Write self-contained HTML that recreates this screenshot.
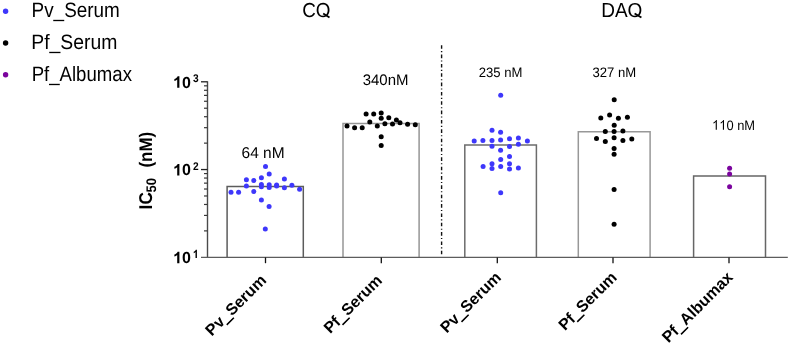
<!DOCTYPE html>
<html><head><meta charset="utf-8"><style>
html,body{margin:0;padding:0;background:#fff;width:790px;height:345px;overflow:hidden;-webkit-font-smoothing:antialiased;text-rendering:geometricPrecision}
svg{position:absolute;left:0;top:0;will-change:transform}
text{text-rendering:geometricPrecision}
</style></head><body>
<svg width="790" height="345" viewBox="0 0 790 345">
<path d="M227.1,257.4 V186.6 H303.3 V257.4" fill="none" stroke="#5c5c5c" stroke-width="1.5"/>
<path d="M343.0,257.4 V123.4 H419.1 V257.4" fill="none" stroke="#969696" stroke-width="1.5"/>
<path d="M464.8,257.4 V144.9 H536.4 V257.4" fill="none" stroke="#6c6c6c" stroke-width="1.5"/>
<path d="M578.3,257.4 V131.8 H650.1 V257.4" fill="none" stroke="#989898" stroke-width="1.5"/>
<path d="M693.6,257.4 V176.0 H765.5 V257.4" fill="none" stroke="#666666" stroke-width="1.5"/>
<line x1="207.5" y1="81.3" x2="207.5" y2="257.4" stroke="#4a4a4a" stroke-width="1.4"/>
<line x1="201" y1="257.4" x2="787.8" y2="257.4" stroke="#5c5c5c" stroke-width="1.35"/>
<line x1="201" y1="169.55" x2="207.5" y2="169.55" stroke="#222" stroke-width="1.3"/>
<line x1="201" y1="81.80" x2="207.5" y2="81.80" stroke="#222" stroke-width="1.3"/>
<line x1="204.0" y1="230.88" x2="207.5" y2="230.88" stroke="#383838" stroke-width="1.2"/>
<line x1="204.0" y1="215.43" x2="207.5" y2="215.43" stroke="#383838" stroke-width="1.2"/>
<line x1="204.0" y1="204.47" x2="207.5" y2="204.47" stroke="#383838" stroke-width="1.2"/>
<line x1="204.0" y1="195.97" x2="207.5" y2="195.97" stroke="#383838" stroke-width="1.2"/>
<line x1="204.0" y1="189.02" x2="207.5" y2="189.02" stroke="#383838" stroke-width="1.2"/>
<line x1="204.0" y1="183.14" x2="207.5" y2="183.14" stroke="#383838" stroke-width="1.2"/>
<line x1="204.0" y1="178.05" x2="207.5" y2="178.05" stroke="#383838" stroke-width="1.2"/>
<line x1="204.0" y1="173.57" x2="207.5" y2="173.57" stroke="#383838" stroke-width="1.2"/>
<line x1="204.0" y1="143.13" x2="207.5" y2="143.13" stroke="#383838" stroke-width="1.2"/>
<line x1="204.0" y1="127.68" x2="207.5" y2="127.68" stroke="#383838" stroke-width="1.2"/>
<line x1="204.0" y1="116.72" x2="207.5" y2="116.72" stroke="#383838" stroke-width="1.2"/>
<line x1="204.0" y1="108.22" x2="207.5" y2="108.22" stroke="#383838" stroke-width="1.2"/>
<line x1="204.0" y1="101.27" x2="207.5" y2="101.27" stroke="#383838" stroke-width="1.2"/>
<line x1="204.0" y1="95.39" x2="207.5" y2="95.39" stroke="#383838" stroke-width="1.2"/>
<line x1="204.0" y1="90.30" x2="207.5" y2="90.30" stroke="#383838" stroke-width="1.2"/>
<line x1="204.0" y1="85.82" x2="207.5" y2="85.82" stroke="#383838" stroke-width="1.2"/>
<line x1="265.5" y1="257.4" x2="265.5" y2="263.2" stroke="#111" stroke-width="1.3"/>
<line x1="381.3" y1="257.4" x2="381.3" y2="263.2" stroke="#111" stroke-width="1.3"/>
<line x1="497.3" y1="257.4" x2="497.3" y2="263.2" stroke="#111" stroke-width="1.3"/>
<line x1="613.0" y1="257.4" x2="613.0" y2="263.2" stroke="#111" stroke-width="1.3"/>
<line x1="729.0" y1="257.4" x2="729.0" y2="263.2" stroke="#111" stroke-width="1.3"/>
<line x1="441.6" y1="45.2" x2="441.6" y2="254.2" stroke="#111" stroke-width="1.4" stroke-dasharray="3.6,2.3,1.1,2.345"/>
<circle cx="265.5" cy="166.4" r="2.5" fill="#3e37fb"/>
<circle cx="269.2" cy="174.1" r="2.5" fill="#3e37fb"/>
<circle cx="246.4" cy="179.7" r="2.5" fill="#3e37fb"/>
<circle cx="253.8" cy="180.6" r="2.5" fill="#3e37fb"/>
<circle cx="261.4" cy="177.7" r="2.5" fill="#3e37fb"/>
<circle cx="284.4" cy="178.9" r="2.5" fill="#3e37fb"/>
<circle cx="246.4" cy="186.1" r="2.5" fill="#3e37fb"/>
<circle cx="261.4" cy="184.6" r="2.5" fill="#3e37fb"/>
<circle cx="261.4" cy="186.8" r="2.5" fill="#3e37fb"/>
<circle cx="269.2" cy="184.7" r="2.5" fill="#3e37fb"/>
<circle cx="269.2" cy="187.4" r="2.5" fill="#3e37fb"/>
<circle cx="276.6" cy="185.0" r="2.5" fill="#3e37fb"/>
<circle cx="276.6" cy="186.1" r="2.5" fill="#3e37fb"/>
<circle cx="284.4" cy="187.8" r="2.5" fill="#3e37fb"/>
<circle cx="291.9" cy="185.3" r="2.5" fill="#3e37fb"/>
<circle cx="299.6" cy="189.2" r="2.5" fill="#3e37fb"/>
<circle cx="253.8" cy="191.5" r="2.5" fill="#3e37fb"/>
<circle cx="231.0" cy="192.3" r="2.5" fill="#3e37fb"/>
<circle cx="238.6" cy="192.3" r="2.5" fill="#3e37fb"/>
<circle cx="261.4" cy="200.1" r="2.5" fill="#3e37fb"/>
<circle cx="269.1" cy="206.6" r="2.5" fill="#3e37fb"/>
<circle cx="265.3" cy="229.1" r="2.5" fill="#3e37fb"/>
<circle cx="366.1" cy="113.9" r="2.5" fill="#000"/>
<circle cx="373.7" cy="113.9" r="2.5" fill="#000"/>
<circle cx="381.2" cy="113.1" r="2.5" fill="#000"/>
<circle cx="381.2" cy="118.3" r="2.5" fill="#000"/>
<circle cx="388.8" cy="117.8" r="2.5" fill="#000"/>
<circle cx="396.4" cy="120.1" r="2.5" fill="#000"/>
<circle cx="400.0" cy="122.7" r="2.5" fill="#000"/>
<circle cx="369.8" cy="122.0" r="2.5" fill="#000"/>
<circle cx="384.9" cy="123.7" r="2.5" fill="#000"/>
<circle cx="392.5" cy="123.9" r="2.5" fill="#000"/>
<circle cx="407.6" cy="124.2" r="2.5" fill="#000"/>
<circle cx="415.3" cy="124.7" r="2.5" fill="#000"/>
<circle cx="347.0" cy="126.1" r="2.5" fill="#000"/>
<circle cx="354.6" cy="127.8" r="2.5" fill="#000"/>
<circle cx="362.2" cy="127.8" r="2.5" fill="#000"/>
<circle cx="377.3" cy="126.1" r="2.5" fill="#000"/>
<circle cx="381.2" cy="136.7" r="2.5" fill="#000"/>
<circle cx="381.2" cy="145.5" r="2.5" fill="#000"/>
<circle cx="500.7" cy="95.2" r="2.5" fill="#3e37fb"/>
<circle cx="492.0" cy="130.2" r="2.5" fill="#3e37fb"/>
<circle cx="500.6" cy="132.2" r="2.5" fill="#3e37fb"/>
<circle cx="474.2" cy="140.9" r="2.5" fill="#3e37fb"/>
<circle cx="482.9" cy="140.4" r="2.5" fill="#3e37fb"/>
<circle cx="492.0" cy="140.4" r="2.5" fill="#3e37fb"/>
<circle cx="500.6" cy="140.0" r="2.5" fill="#3e37fb"/>
<circle cx="509.5" cy="138.7" r="2.5" fill="#3e37fb"/>
<circle cx="518.4" cy="138.0" r="2.5" fill="#3e37fb"/>
<circle cx="527.4" cy="141.0" r="2.5" fill="#3e37fb"/>
<circle cx="492.0" cy="146.3" r="2.5" fill="#3e37fb"/>
<circle cx="509.5" cy="146.5" r="2.5" fill="#3e37fb"/>
<circle cx="518.4" cy="144.3" r="2.5" fill="#3e37fb"/>
<circle cx="500.6" cy="150.2" r="2.5" fill="#3e37fb"/>
<circle cx="509.5" cy="156.5" r="2.5" fill="#3e37fb"/>
<circle cx="500.7" cy="159.6" r="2.5" fill="#3e37fb"/>
<circle cx="492.0" cy="163.8" r="2.5" fill="#3e37fb"/>
<circle cx="509.5" cy="163.8" r="2.5" fill="#3e37fb"/>
<circle cx="483.1" cy="166.4" r="2.5" fill="#3e37fb"/>
<circle cx="500.7" cy="166.4" r="2.5" fill="#3e37fb"/>
<circle cx="492.0" cy="168.4" r="2.5" fill="#3e37fb"/>
<circle cx="509.5" cy="169.0" r="2.5" fill="#3e37fb"/>
<circle cx="518.4" cy="168.0" r="2.5" fill="#3e37fb"/>
<circle cx="500.7" cy="192.8" r="2.5" fill="#3e37fb"/>
<circle cx="614.2" cy="99.7" r="2.5" fill="#000"/>
<circle cx="600.8" cy="118.0" r="2.5" fill="#000"/>
<circle cx="609.6" cy="114.9" r="2.5" fill="#000"/>
<circle cx="618.4" cy="118.2" r="2.5" fill="#000"/>
<circle cx="627.4" cy="117.3" r="2.5" fill="#000"/>
<circle cx="614.2" cy="125.3" r="2.5" fill="#000"/>
<circle cx="605.3" cy="131.6" r="2.5" fill="#000"/>
<circle cx="614.1" cy="131.6" r="2.5" fill="#000"/>
<circle cx="622.9" cy="131.1" r="2.5" fill="#000"/>
<circle cx="596.5" cy="138.6" r="2.5" fill="#000"/>
<circle cx="605.3" cy="141.6" r="2.5" fill="#000"/>
<circle cx="614.1" cy="137.7" r="2.5" fill="#000"/>
<circle cx="622.9" cy="140.5" r="2.5" fill="#000"/>
<circle cx="631.8" cy="139.0" r="2.5" fill="#000"/>
<circle cx="614.1" cy="148.5" r="2.5" fill="#000"/>
<circle cx="614.1" cy="154.3" r="2.5" fill="#000"/>
<circle cx="614.1" cy="189.6" r="2.5" fill="#000"/>
<circle cx="614.1" cy="224.3" r="2.5" fill="#000"/>
<circle cx="729.6" cy="168.2" r="2.5" fill="#7b049e"/>
<circle cx="729.6" cy="174.0" r="2.5" fill="#7b049e"/>
<circle cx="729.6" cy="186.8" r="2.5" fill="#7b049e"/>
<circle cx="5.6" cy="11.3" r="2.7" fill="#3e37fb"/>
<circle cx="5.6" cy="43.0" r="2.7" fill="#000"/>
<circle cx="5.6" cy="74.8" r="2.7" fill="#7b049e"/>
<g fill="#000">
<text transform="translate(31.55,17.3) scale(1,1.105)" style="font-family:'Liberation Sans',sans-serif;font-size:18.91px;" text-anchor="start" >Pv_Serum</text>
<text transform="translate(31.2,49.05) scale(1,1.075)" style="font-family:'Liberation Sans',sans-serif;font-size:19.4px;" text-anchor="start" >Pf_Serum</text>
<text transform="translate(31.68,80.8) scale(1,1.12)" style="font-family:'Liberation Sans',sans-serif;font-size:18.6px;" text-anchor="start" >Pf_Albumax</text>
<text transform="translate(316.37,16.95) scale(1,1.075)" style="font-family:'Liberation Sans',sans-serif;font-size:18.85px;" text-anchor="middle" >CO</text>
<path d="M323.20,13.50 L329.50,17.60" stroke="#000" stroke-width="1.75" fill="none"/>
<text transform="translate(621.82,17.0) scale(1,1.065)" style="font-family:'Liberation Sans',sans-serif;font-size:19.0px;" text-anchor="middle" >DAO</text>
<path d="M634.60,13.50 L641.40,17.60" stroke="#000" stroke-width="1.75" fill="none"/>
<text transform="translate(263.07,157.75) scale(1,1.01)" style="font-family:'Liberation Sans',sans-serif;font-size:15.5px;" text-anchor="middle" >64 nM</text>
<text transform="translate(385.58,84.55) scale(1,1.02)" style="font-family:'Liberation Sans',sans-serif;font-size:15.0px;" text-anchor="middle" >340nM</text>
<text transform="translate(500.56,76.6) scale(1,1.04)" style="font-family:'Liberation Sans',sans-serif;font-size:13.12px;" text-anchor="middle" >235 nM</text>
<text transform="translate(614.34,76.6) scale(1,1.045)" style="font-family:'Liberation Sans',sans-serif;font-size:13.1px;" text-anchor="middle" >327 nM</text>
<path transform="translate(712.04,129.75) scale(0.9923,1.0518)" d="M4.84,0 H3.70 V-7.28 Q3.1,-6.7 2.2,-6.25 Q1.85,-6.05 1.50,-5.95 V-7.03 Q2.7,-7.6 3.45,-8.3 Q3.9,-8.8 4.19,-9.31 H4.84 Z"/>
<path transform="translate(719.21,129.75) scale(0.9923,1.0518)" d="M4.84,0 H3.70 V-7.28 Q3.1,-6.7 2.2,-6.25 Q1.85,-6.05 1.50,-5.95 V-7.03 Q2.7,-7.6 3.45,-8.3 Q3.9,-8.8 4.19,-9.31 H4.84 Z"/>
<text transform="translate(726.381503125,129.75) scale(1,1.06)" style="font-family:'Liberation Sans',sans-serif;font-size:12.9px;" text-anchor="start" >0 nM</text>
<path transform="translate(173.10,87.65) scale(1.0000,1.0000)" d="M6.30,0 H4.10 V-8.27 Q2.90,-7.15 1.27,-6.61 V-8.60 Q2.13,-8.88 3.15,-9.67 Q4.16,-10.46 4.54,-11.5 H6.30 Z"/>
<text x="182.0" y="87.65" style="font-family:'Liberation Sans',sans-serif;font-size:16px;font-weight:bold;" text-anchor="start" >0</text>
<text transform="translate(192.9,82.4) scale(1,1.1)" style="font-family:'Liberation Sans',sans-serif;font-size:10.2px;font-weight:bold;" text-anchor="start" >3</text>
<path transform="translate(173.10,175.40) scale(1.0000,1.0000)" d="M6.30,0 H4.10 V-8.27 Q2.90,-7.15 1.27,-6.61 V-8.60 Q2.13,-8.88 3.15,-9.67 Q4.16,-10.46 4.54,-11.5 H6.30 Z"/>
<text x="182.0" y="175.4" style="font-family:'Liberation Sans',sans-serif;font-size:16px;font-weight:bold;" text-anchor="start" >0</text>
<text transform="translate(192.9,170.15) scale(1,1.1)" style="font-family:'Liberation Sans',sans-serif;font-size:10.2px;font-weight:bold;" text-anchor="start" >2</text>
<path transform="translate(173.10,263.15) scale(1.0000,1.0000)" d="M6.30,0 H4.10 V-8.27 Q2.90,-7.15 1.27,-6.61 V-8.60 Q2.13,-8.88 3.15,-9.67 Q4.16,-10.46 4.54,-11.5 H6.30 Z"/>
<text x="182.0" y="263.15" style="font-family:'Liberation Sans',sans-serif;font-size:16px;font-weight:bold;" text-anchor="start" >0</text>
<path transform="translate(192.90,257.90) scale(0.6375,0.7013)" d="M6.30,0 H4.10 V-8.27 Q2.90,-7.15 1.27,-6.61 V-8.60 Q2.13,-8.88 3.15,-9.67 Q4.16,-10.46 4.54,-11.5 H6.30 Z"/>
<g transform="translate(152.3,209.4) rotate(-90) scale(1,1.07)"><text x="0" y="0" style="font-family:'Liberation Sans',sans-serif;font-size:17.3px;font-weight:bold">IC<tspan style="font-size:13px" dy="3.5" dx="-0.4">50</tspan></text><text x="41.8" y="0" style="font-family:'Liberation Sans',sans-serif;font-size:17px;font-weight:bold">(nM)</text></g>
<text transform="translate(267.2,281.3) rotate(-45)" text-anchor="end" style="font-family:'Liberation Sans',sans-serif;font-size:16px;font-weight:bold">Pv<tspan dy="0.5" stroke="#000" stroke-width="0.9">_</tspan><tspan dy="-0.5">Serum</tspan></text>
<text transform="translate(383.0,281.4) rotate(-45)" text-anchor="end" style="font-family:'Liberation Sans',sans-serif;font-size:16px;font-weight:bold">Pf<tspan dy="0.5" stroke="#000" stroke-width="0.9">_</tspan><tspan dy="-0.5">Serum</tspan></text>
<text transform="translate(502.0,278.4) rotate(-45)" text-anchor="end" style="font-family:'Liberation Sans',sans-serif;font-size:16px;font-weight:bold">Pv<tspan dy="0.5" stroke="#000" stroke-width="0.9">_</tspan><tspan dy="-0.5">Serum</tspan></text>
<text transform="translate(617.7,278.4) rotate(-45)" text-anchor="end" style="font-family:'Liberation Sans',sans-serif;font-size:16px;font-weight:bold">Pf<tspan dy="0.5" stroke="#000" stroke-width="0.9">_</tspan><tspan dy="-0.5">Serum</tspan></text>
<text transform="translate(733.9,278.2) rotate(-45)" text-anchor="end" style="font-family:'Liberation Sans',sans-serif;font-size:16px;font-weight:bold">Pf<tspan dy="0.5" stroke="#000" stroke-width="0.9">_</tspan><tspan dy="-0.5">Albumax</tspan></text>
</g>
</svg>
</body></html>
